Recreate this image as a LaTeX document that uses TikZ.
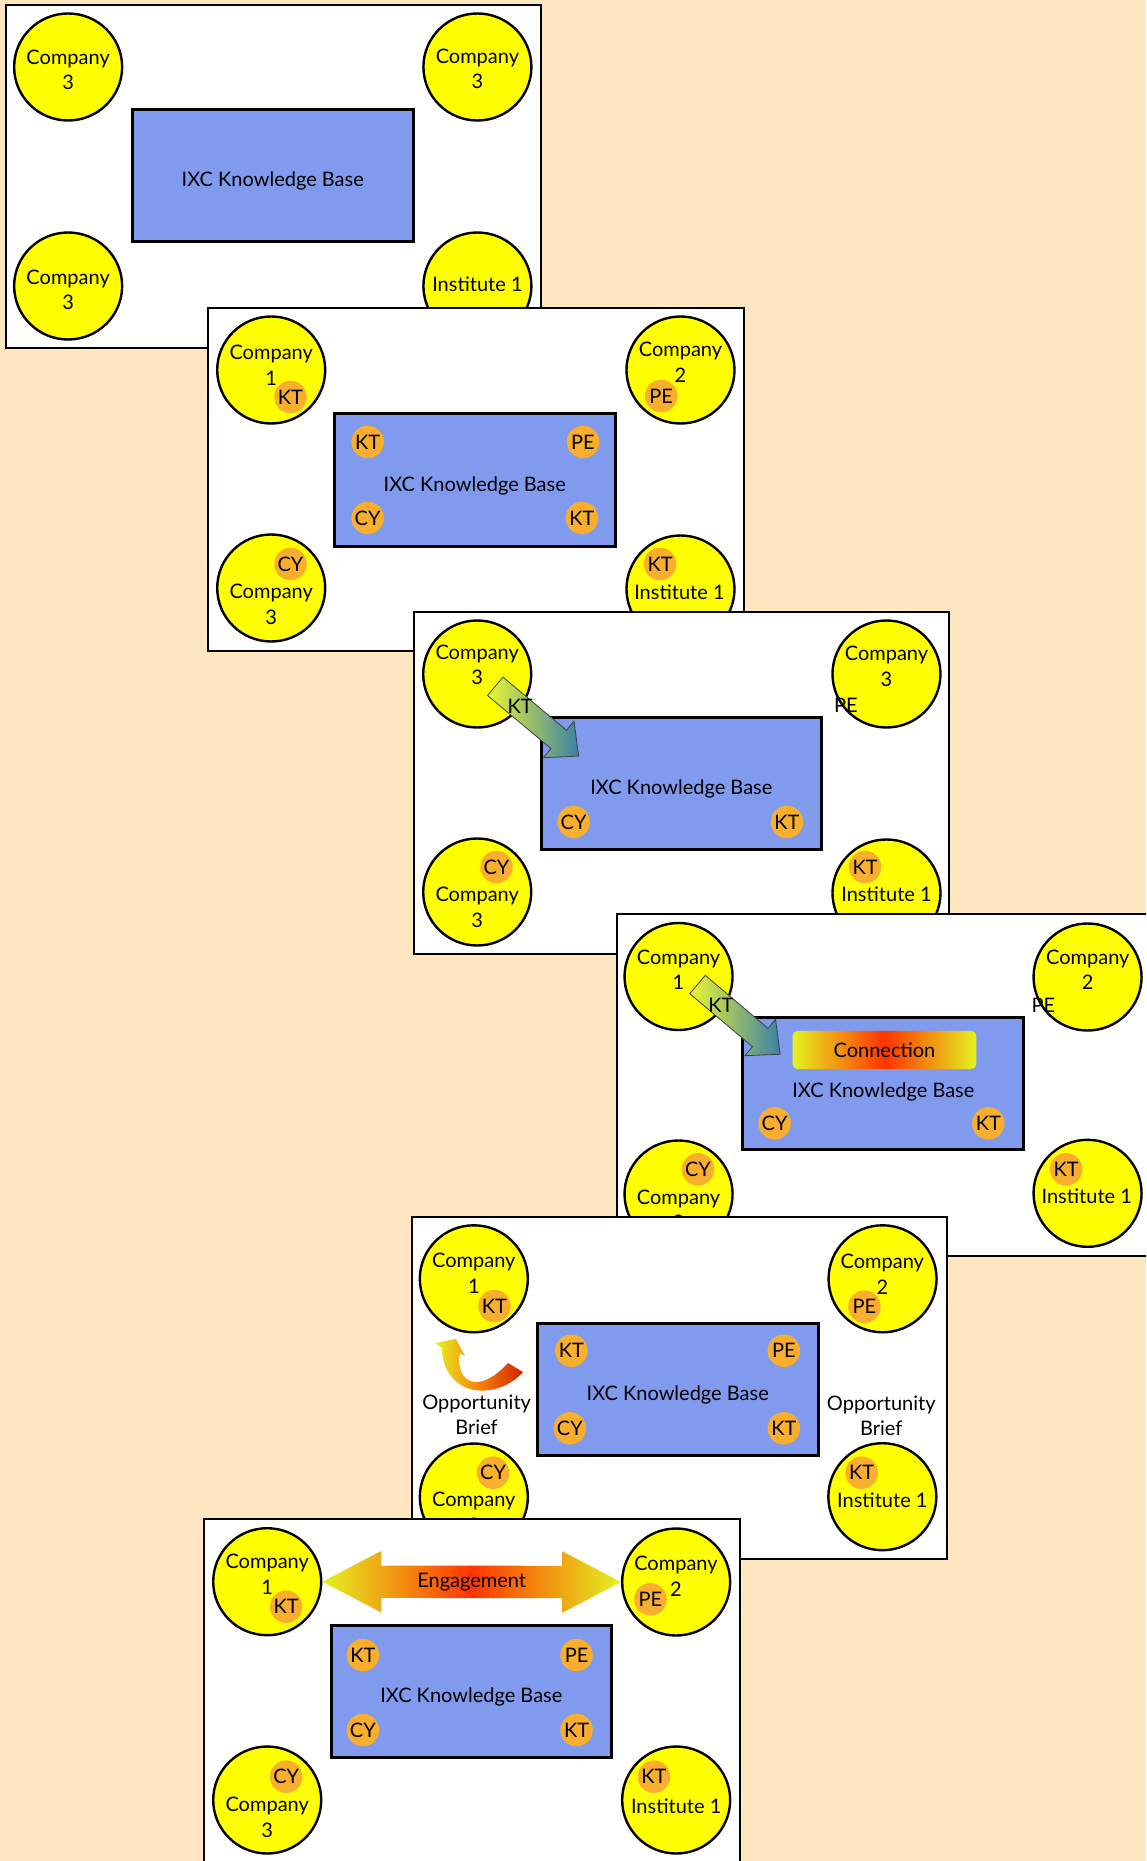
\documentclass[tikz,border=0pt]{standalone}
\usepackage{fontspec}
\setmainfont{Lato}
\usepackage{tikz}
\usetikzlibrary{shapes.geometric, calc}
\definecolor{peach}{RGB}{254,230,192}
\definecolor{orgyellow}{RGB}{255,255,0}
\definecolor{kbblue}{RGB}{128,154,238}
\definecolor{badgeorange}{RGB}{250,174,46}
\definecolor{gradyellow}{RGB}{228,242,34}
\definecolor{gradred}{RGB}{255,52,0}
\definecolor{arrowgreen}{RGB}{234,246,52}
\definecolor{arrowteal}{RGB}{58,128,166}
\definecolor{curvered}{RGB}{204,36,0}
\definecolor{curveorange}{RGB}{250,128,12}
\tikzset{
  panel/.style   = {fill=white, draw=black, line width=1pt},
  org/.style     = {ellipse, minimum width=54pt, minimum height=53.5pt,
                    inner sep=0pt, fill=orgyellow, draw=black, line width=1.2pt},
  kbase/.style   = {rectangle, minimum width=140.3pt, minimum height=66pt,
                    text height=13pt, text depth=2pt,
                    inner sep=0pt, fill=kbblue, draw=black, line width=1.5pt},
  badge/.style   = {circle, minimum size=16.25pt, inner sep=0pt, fill=badgeorange},
  txt/.style     = {align=center, inner sep=0pt},
  ktarrow/.style = {draw=black!75, line width=0.4pt,
                    left color=arrowgreen, right color=arrowteal},
  engage/.style  = {left color=gradyellow, right color=gradyellow, middle color=gradred},
  conn/.style    = {rectangle, rounded corners=2.5pt, minimum width=91.8pt,
                    minimum height=19.2pt, inner sep=0pt,
                    left color=gradyellow, right color=gradyellow, middle color=gradred},
  oppcurve/.style= {left color=gradyellow, right color=curvered, middle color=curveorange},
}
\begin{document}
\begin{tikzpicture}[x=0.5pt, y=-0.5pt, font=\fontsize{10}{12.8}\selectfont]

  \useasboundingbox (0,0) rectangle (1146,1861);
  \fill[peach] (0,0) rectangle (1146,1861);
  \clip (0,0) rectangle (1146,1861);

  % ── Panel 1: plain knowledge base ──────────────────────────────────────────
  \begin{scope}[shift={(6,5)}, xscale=1.0714]
    \draw[panel] (0,0) rectangle (499,343);
    \node[kbase] (p1kb) at (249,171) {IXC Knowledge Base};
    \node[org] (p1c1) at (58,62)  {};
    \node[org] (p1c2) at (440,62) {};
    \node[org] (p1c3) at (58,281) {};
    \node[org] (p1c4) at (440,281) {};
    \node[txt] (p1t1) at (58,65)  {Company\\3};
    \node[txt] (p1t2) at (440,64) {Company\\3};
    \node[txt] (p1t3) at (58,285) {Company\\3};
    \node[txt] (p1t4) at (440,279) {Institute 1};
  \end{scope}

  % ── Panel 2: badges in members and base ────────────────────────────────────
  \begin{scope}[shift={(208,308)}, xscale=1.0714]
    \draw[panel] (0,0) rectangle (500,343);
    \node[kbase] (p2kb) at (249,172) {IXC Knowledge Base};
    \node[badge] (p2k1) at (149,134) {KT};
    \node[badge] (p2k2) at (350,134) {PE};
    \node[badge] (p2k3) at (149,210) {CY};
    \node[badge] (p2k4) at (349,210) {KT};
    \node[org] (p2c1) at (59,62)  {};
    \node[org] (p2c2) at (441,62) {};
    \node[org] (p2c3) at (59,280) {};
    \node[org] (p2c4) at (441,281) {};
    \node[txt] (p2t1) at (59,57.5) {Company\\1};
    \node[txt] (p2t2) at (441,54)  {Company\\2};
    \node[txt] (p2t3) at (59,296.5) {Company\\3};
    \node[txt] (p2t4) at (440,284) {Institute 1};
    \node[badge] (p2b1) at (77,89)   {KT};
    \node[badge] (p2b2) at (423,88)  {PE};
    \node[badge] (p2b3) at (77,256)  {CY};
    \node[badge] (p2b4) at (422,256) {KT};
  \end{scope}

  % ── Panel 3: KT pushed into the base ───────────────────────────────────────
  \begin{scope}[shift={(414,612)}, xscale=1.0714]
    \draw[panel] (0,0) rectangle (499.3,342);
    \node[kbase] (p3kb) at (249.5,171) {IXC Knowledge Base};
    \node[badge] (p3k3) at (149,210) {CY};
    \node[badge] (p3k4) at (348,210) {KT};
    \node[org] (p3c1) at (59,62)  {};
    \node[org] (p3c2) at (441,62) {};
    \node[org] (p3c3) at (59,280) {};
    \node[org] (p3c4) at (441,281) {};
    \node[txt] (p3t1) at (59,53)   {Company\\3};
    \node[txt] (p3t2) at (441,54.5) {Company\\3};
    \node[txt] (p3t3) at (59,295.5) {Company\\3};
    \node[txt] (p3t4) at (441,282) {Institute 1};
    \node[txt] (p3pe) at (403,93)  {PE};
    \node[badge] (p3b3) at (77,255)  {CY};
    \node[badge] (p3b4) at (421,255) {KT};
    \begin{scope}[shift={(75.8,74.3)}, xscale=0.9333, rotate=-39.9]
      \path[ktarrow] (0,-12) -- (82.8,-12) -- (82.8,-23.8) -- (108.8,0)
        -- (82.8,23.8) -- (82.8,12) -- (0,12) -- cycle;
    \end{scope}
    \node[txt] (p3akt) at (99,94) {KT};
  \end{scope}

  % ── Panel 4: connection made ───────────────────────────────────────────────
  \begin{scope}[shift={(617,914)}, xscale=1.0256]
    \draw[panel] (0,0) rectangle (560,342);
    \node[kbase] (p4kb) at (259.3,169.8) {};
    \node[conn] (p4con) at (260.8,136) {Connection};
    \node[txt] (p4kbt) at (259.7,177.5) {IXC Knowledge Base};
    \node[badge] (p4k3) at (153.7,209.3) {CY};
    \node[badge] (p4k4) at (362,209.3) {KT};
    \node[org] (p4c1) at (60,62.5)    {};
    \node[org] (p4c2) at (458.8,63)   {};
    \node[org] (p4c3) at (60,280)     {};
    \node[org] (p4c4) at (458.8,279.3) {};
    \node[txt] (p4t1) at (60,55.7)  {Company\\1};
    \node[txt] (p4t2) at (459,55.7) {Company\\2};
    \node[txt] (p4t3) at (60,295.8) {Company\\3};
    \node[txt] (p4t4) at (458,282.7) {Institute 1};
    \node[txt] (p4pe) at (415.7,91) {PE};
    \node[badge] (p4b3) at (79,255.3)  {CY};
    \node[badge] (p4b4) at (438,255.3) {KT};
    \begin{scope}[shift={(78.5,70.5)}, xscale=0.975, rotate=-40.2]
      \path[ktarrow] (0,-12) -- (82.1,-12) -- (82.1,-23.8) -- (108.1,0)
        -- (82.1,23.8) -- (82.1,12) -- (0,12) -- cycle;
    \end{scope}
    \node[txt] (p4akt) at (101.3,91.7) {KT};
  \end{scope}

  % ── Panel 5: opportunity brief ─────────────────────────────────────────────
  \begin{scope}[shift={(412,1217)}, xscale=1.0714]
    \draw[panel] (0,0) rectangle (499.3,342);
    \node[kbase] (p5kb) at (248,172.2) {IXC Knowledge Base};
    \node[badge] (p5k1) at (148.7,133.7) {KT};
    \node[badge] (p5k2) at (347,133.7)   {PE};
    \node[badge] (p5k3) at (147.3,211.3) {CY};
    \node[badge] (p5k4) at (347,211.3)   {KT};
    \node[org] (p5c1) at (57.7,61.8)  {};
    \node[org] (p5c2) at (439.2,61.8) {};
    \node[org] (p5c3) at (57.7,280)   {};
    \node[org] (p5c4) at (439,279.7)  {};
    \node[txt] (p5t1) at (57.7,56)   {Company\\1};
    \node[txt] (p5t2) at (439,57)    {Company\\2};
    \node[txt] (p5t3) at (57.7,295.5) {Company\\3};
    \node[txt] (p5t4) at (439,283)   {Institute 1};
    \node[badge] (p5b1) at (77,89)      {KT};
    \node[badge] (p5b2) at (422.3,89.7) {PE};
    \node[badge] (p5b3) at (75.7,255.7) {CY};
    \node[badge] (p5b4) at (419.7,255.7) {KT};
    \begin{scope}[xscale=0.9333]
      \path[oppcurve] (30,131) -- (23,126) -- (44,122) -- (53,139) -- (48,136)
        .. controls (45,150) and (50,163) .. (62,165)
        .. controls (75,166) and (88,155) .. (96,146)
        -- (111,155)
        .. controls (100,168) and (80,176) .. (62,173)
        .. controls (45,170) and (30,155) .. (30,131) -- cycle;
    \end{scope}
    \node[txt] (p5opl) at (60.3,197.7) {Opportunity\\Brief};
    \node[txt] (p5opr) at (438,198.8)  {Opportunity\\Brief};
  \end{scope}

  % ── Panel 6: engagement ────────────────────────────────────────────────────
  \begin{scope}[shift={(204,1519)}, xscale=1.0714]
    \draw[panel] (0,0) rectangle (500,350);
    \node[kbase] (p6kb) at (249.5,172.2) {IXC Knowledge Base};
    \node[badge] (p6k1) at (148.3,136) {KT};
    \node[badge] (p6k2) at (347.7,136) {PE};
    \node[badge] (p6k3) at (148.3,211) {CY};
    \node[badge] (p6k4) at (347.7,211) {KT};
    \node[org] (p6c1) at (59,62.7)  {};
    \node[org] (p6c2) at (440.7,63) {};
    \node[org] (p6c3) at (59,281)   {};
    \node[org] (p6c4) at (440.7,281) {};
    \node[txt] (p6t1) at (59,55.2)   {Company\\1};
    \node[txt] (p6t2) at (440.5,57)  {Company\\2};
    \node[txt] (p6t3) at (59,298.5)  {Company\\3};
    \node[txt] (p6t4) at (440.7,287.7) {Institute 1};
    \node[badge] (p6b1) at (76.7,87.7)  {KT};
    \node[badge] (p6b2) at (416.7,80.3) {PE};
    \node[badge] (p6b3) at (76.7,257.7) {CY};
    \node[badge] (p6b4) at (420,257.7)  {KT};
    \path[engage] (p6c1.east) -- ++(55,-30.8) -- ++(0,14.6)
      -- ($(p6c2.west)+(-55,-16.2)$) -- ++(0,-14.6) -- (p6c2.west)
      -- ++(-55,30.8) -- ++(0,-14.6)
      -- ($(p6c1.east)+(55,16.2)$) -- ++(0,14.6) -- cycle;
    \node[txt] (p6eng) at ($(p6c1.east)!0.5!(p6c2.west)$) {Engagement};
  \end{scope}

\end{tikzpicture}
\end{document}
